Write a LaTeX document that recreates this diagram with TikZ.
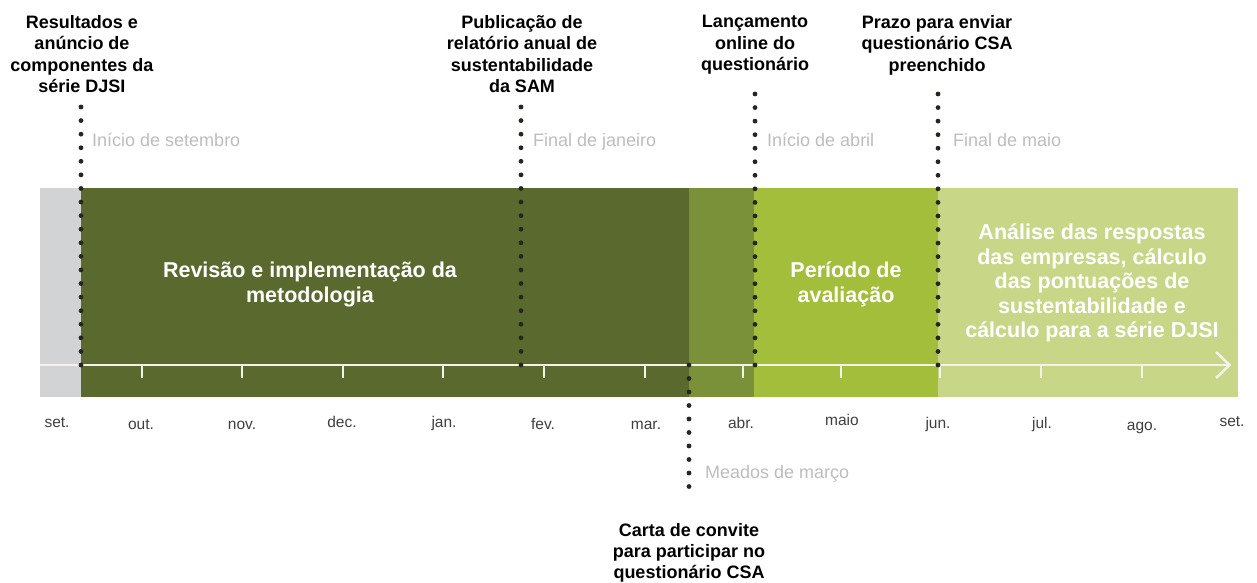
\documentclass[tikz,border=0pt]{standalone}
\usepackage{fontspec}
\setmainfont{Liberation Sans}
\definecolor{cgray}{HTML}{D1D3D4}
\definecolor{cdark}{HTML}{5A6A2F}
\definecolor{cmed}{HTML}{7B9139}
\definecolor{cbright}{HTML}{A3BE3A}
\definecolor{clight}{HTML}{C7D787}
\definecolor{cdot}{HTML}{26261F}
\definecolor{cnote}{HTML}{BDBDBD}
\definecolor{cmonth}{HTML}{3F3F3F}
\definecolor{caxis}{HTML}{F3F3EA}
\begin{document}
\begin{tikzpicture}[x=1pt,y=-1pt,
 toplabel/.style={align=center, inner sep=0pt, anchor=north, font=\fontsize{18}{21.5}\selectfont\bfseries},
 barlabel/.style={align=center, inner sep=0pt, anchor=north, text=white, font=\fontsize{21.5}{24.5}\selectfont\bfseries},
 note/.style={inner sep=0pt, anchor=base west, text=cnote, font=\fontsize{18}{21}\selectfont},
 month/.style={inner sep=0pt, anchor=base, text=cmonth, font=\fontsize{15.5}{18}\selectfont},
 dotline/.style={draw=cdot, line width=4.8pt, line cap=round, dash pattern=on 0pt off #1},
 axisline/.style={draw=caxis, line width=2.6pt},
 tickmark/.style={draw=caxis, line width=2.4pt},
]
\useasboundingbox (0,0) rectangle (1257,582);
% bar segments
\fill[cgray] (40,188) rectangle (81,397);
\fill[cdark] (81,188) rectangle (689,397);
\fill[cmed] (689,188) rectangle (754,397);
\fill[cbright] (754,188) rectangle (938,397);
\fill[clight] (938,188) rectangle (1238,397);
% axis
\draw[axisline] (40,365) -- (1229,365);
\draw[axisline, line join=miter] (1216,352) -- (1229.5,365) -- (1216,378);
\foreach \t in {142,242,343,443,544,645,743,841,940,1041,1142}
  \draw[tickmark] (\t,365) -- (\t,378);
% labels
\node[toplabel] (lres) at (82,15) {Resultados e\\anúncio de\\componentes da\\série DJSI};
\node[toplabel] (lpub) at (522,15) {Publicação de\\relatório anual de\\sustentabilidade\\da SAM};
\node[toplabel] (llan) at (755,15) {Lançamento\\online do\\questionário};
\node[toplabel] (lpra) at (937,15) {Prazo para enviar\\questionário CSA\\preenchido};
\node[toplabel, font=\fontsize{18}{21}\selectfont\bfseries] (lcar) at (689,523) {Carta de convite\\para participar no\\questionário CSA};
% notes
\node[note] (nset) at (92,146.5) {Início de setembro};
\node[note] (njan) at (533,146.5) {Final de janeiro};
\node[note] (nabr) at (767,146.5) {Início de abril};
\node[note] (nmai) at (953,146.5) {Final de maio};
\node[note] (nmar) at (705,478) {Meados de março};
% months
\node[month] (m1) at (57,427) {set.};
\node[month] (m2) at (141,429) {out.};
\node[month] (m3) at (242,429) {nov.};
\node[month] (m4) at (342,427) {dec.};
\node[month] (m5) at (444,427) {jan.};
\node[month] (m6) at (543,429) {fev.};
\node[month] (m7) at (646,429) {mar.};
\node[month] (m8) at (741,428) {abr.};
\node[month] (m9) at (842,425) {maio};
\node[month] (m10) at (938,428) {jun.};
\node[month] (m11) at (1042,428) {jul.};
\node[month] (m12) at (1142,430) {ago.};
\node[month] (m13) at (1232,426) {set.};
% bar texts
\node[barlabel] (brev) at (310,262) {Revisão e implementação da\\metodologia};
\node[barlabel] (bper) at (846,262) {Período de\\avaliação};
\node[barlabel] (bana) at (1092,224) {Análise das respostas\\das empresas, cálculo\\das pontuações de\\sustentabilidade e\\cálculo para a série DJSI};
% dotted markers
\coordinate (d1a) at (81,107);  \coordinate (d1b) at (81,365);
\coordinate (d2a) at (521,107); \coordinate (d2b) at (521,365);
\coordinate (d3a) at (755,94);  \coordinate (d3b) at (755,365);
\coordinate (d4a) at (938,94);  \coordinate (d4b) at (938,365);
\coordinate (d5a) at (689,365); \coordinate (d5b) at (689,500);
\draw[dotline=13.578pt] (d1a) -- (d1b);
\draw[dotline=13.578pt] (d2a) -- (d2b);
\draw[dotline=13.55pt] (d3a) -- (d3b);
\draw[dotline=13.55pt] (d4a) -- (d4b);
\draw[dotline=13.5pt] (d5a) -- (d5b);
\end{tikzpicture}
\end{document}
